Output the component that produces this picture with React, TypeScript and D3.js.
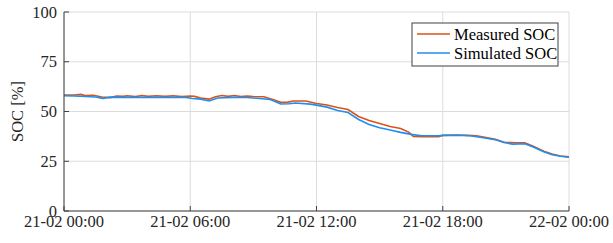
import React from 'react';
import * as d3 from 'd3';

// hours since 21-02 00:00
const measuredHours = [0, 0.5, 0.8, 1.0, 1.4, 1.8, 2.2, 2.5, 2.8, 3.0, 3.4, 3.7, 4.0, 4.4, 4.8, 5.2, 5.6, 6.0, 6.2, 6.5, 6.9, 7.2, 7.5, 7.8, 8.1, 8.4, 8.7, 9.0, 9.5, 10.0, 10.3, 10.6, 10.9, 11.5, 12.0, 12.5, 13.0, 13.5, 14.0, 14.5, 15.0, 15.5, 16.0, 16.4, 16.6, 17.0, 17.8, 18.0, 18.7, 19.2, 19.6, 20.0, 20.5, 20.9, 21.5, 21.9, 22.3, 22.8, 23.2, 23.6, 24.0];
const measuredSoc = [58.3, 58.3, 58.6, 58.0, 58.2, 57.3, 57.0, 57.8, 57.6, 57.9, 57.5, 58.0, 57.6, 57.9, 57.6, 57.9, 57.5, 57.8, 57.6, 56.8, 56.2, 57.4, 58.0, 57.6, 58.0, 57.5, 57.8, 57.5, 57.4, 55.8, 54.6, 54.6, 55.3, 55.3, 54.0, 53.3, 52.0, 51.0, 47.5, 45.5, 44.0, 42.5, 41.5, 39.5, 37.5, 37.3, 37.3, 38.0, 38.2, 38.0, 37.8, 37.0, 36.0, 34.5, 34.3, 34.3, 32.5, 30.0, 28.6, 27.6, 27.2];

const simulatedHours = [0, 0.5, 1.0, 1.5, 1.85, 2.2, 3, 4, 5, 5.8, 6.1, 6.5, 6.9, 7.3, 8, 8.7, 9.3, 9.8, 10.3, 10.7, 11.0, 11.7, 12.0, 12.5, 13.0, 13.5, 14.0, 14.5, 15.0, 15.5, 16.0, 16.5, 17.0, 17.8, 18.0, 18.7, 19.3, 20.0, 20.5, 21.0, 21.3, 21.9, 22.3, 22.8, 23.2, 23.6, 24.0];
const simulatedSoc = [57.9, 57.8, 57.5, 57.3, 56.6, 57.2, 57.1, 57.1, 57.1, 57.1, 56.5, 56.2, 55.3, 56.8, 57.1, 57.0, 56.5, 56.0, 53.8, 53.9, 54.3, 53.7, 53.2, 52.2, 50.5, 49.5, 46.0, 43.5, 41.8, 40.7, 39.5, 38.5, 37.8, 37.8, 38.0, 38.1, 37.8, 36.7, 35.8, 34.3, 33.6, 33.8, 32.2, 29.8, 28.3, 27.5, 27.0];

const xTicks = [0, 6, 12, 18, 24];
const xTickLabels = ['21-02 00:00', '21-02 06:00', '21-02 12:00', '21-02 18:00', '22-02 00:00'];
const yTicks = [0, 25, 50, 75, 100];
const seriesNames = ['Measured SOC', 'Simulated SOC'];

const W = 613;
const H = 243;
const m = { left: 64, right: 44, top: 12, bottom: 32 };
const orange = '#D95319';
const blue = '#1E8FF0';

export default function App() {
  const x = d3.scaleLinear().domain([0, 24]).range([m.left, W - m.right]);
  const y = d3.scaleLinear().domain([0, 100]).range([H - m.bottom, m.top]);

  const line = d3.line<[number, number]>().x(d => x(d[0])).y(d => y(d[1]));
  const measured = line(measuredHours.map((h, i) => [h, measuredSoc[i]] as [number, number])) || '';
  const simulated = line(simulatedHours.map((h, i) => [h, simulatedSoc[i]] as [number, number])) || '';

  const x0 = x(0), x1 = x(24), y0 = y(0), y1 = y(100);
  const lx = 412, ly = 23;
  const txt = { fontFamily: 'Liberation Serif', fontSize: 16.5 };

  return (
    <svg width={W} height={H} style={{ position: 'absolute', left: 0, top: 0, background: '#fff' }}>
      {/* grid */}
      {xTicks.map(t => (
        <line key={'gx' + t} x1={x(t)} x2={x(t)} y1={y1} y2={y0} stroke="#dcdcdc" strokeWidth={1} />
      ))}
      {yTicks.map(t => (
        <line key={'gy' + t} x1={x0} x2={x1} y1={y(t)} y2={y(t)} stroke="#dcdcdc" strokeWidth={1} />
      ))}

      <path d={measured} fill="none" stroke={orange} strokeWidth={1.6} />
      <path d={simulated} fill="none" stroke={blue} strokeWidth={1.6} />

      {/* axes */}
      <line x1={x0} x2={x0} y1={y1} y2={y0} stroke="#404040" strokeWidth={1} />
      <line x1={x0} x2={x1} y1={y0} y2={y0} stroke="#404040" strokeWidth={1} />
      {xTicks.map((t, i) => (
        <g key={'xt' + t}>
          <line x1={x(t)} x2={x(t)} y1={y0} y2={y0 - 5} stroke="#404040" />
          <text x={x(t)} y={y0 + 16} textAnchor="middle" style={txt} fill="#262626">{xTickLabels[i]}</text>
        </g>
      ))}
      {yTicks.map(t => (
        <g key={'yt' + t}>
          <line x1={x0} x2={x0 + 5} y1={y(t)} y2={y(t)} stroke="#404040" />
          <text x={x0 - 7} y={y(t) + 5.5} textAnchor="end" style={txt} fill="#262626">{t}</text>
        </g>
      ))}
      <text transform={`translate(23,${(y0 + y1) / 2}) rotate(-90)`} textAnchor="middle" style={txt} fill="#262626">SOC [%]</text>

      {/* legend */}
      <rect x={lx} y={ly} width={146} height={43} fill="#fff" stroke="#404040" strokeWidth={1} />
      {seriesNames.map((n, i) => (
        <g key={n}>
          <line x1={lx + 5} x2={lx + 38} y1={ly + 11 + i * 19} y2={ly + 11 + i * 19} stroke={i === 0 ? orange : blue} strokeWidth={1.6} />
          <text x={lx + 42} y={ly + 16.5 + i * 19} style={txt} fill="#000">{n}</text>
        </g>
      ))}
    </svg>
  );
}
